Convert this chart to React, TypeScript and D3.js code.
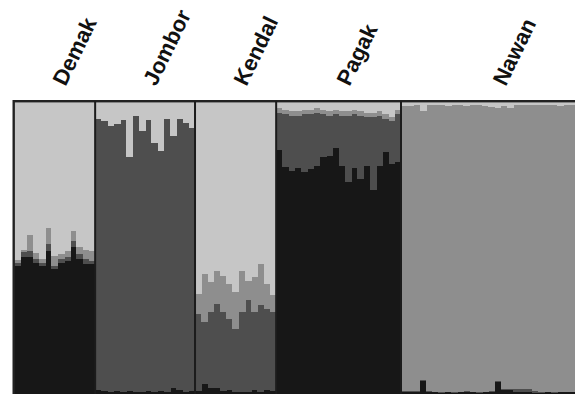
import * as d3 from 'd3';
import * as React from 'react';

// STRUCTURE-style admixture proportions, one value per individual
const populations = ['Demak', 'Jombor', 'Kendal', 'Pagak', 'Nawan'];
const clusterKeys = ['black', 'dark', 'mid', 'light'];
const clusterColors = ['#171717', '#4e4e4e', '#8e8e8e', '#c6c6c6'];

const demakBlack = [0.443, 0.474, 0.474, 0.453, 0.443, 0.494, 0.433, 0.453, 0.46, 0.508, 0.467, 0.45, 0.45];
const demakDark = [0.01, 0.014, 0.02, 0.014, 0.01, 0.024, 0.01, 0.014, 0.014, 0.02, 0.014, 0.014, 0.01];
const demakMid = [0.01, 0.007, 0.055, 0.02, 0.014, 0.055, 0.034, 0.017, 0.02, 0.034, 0.027, 0.031, 0.034];

const jomborBlack = [0.02, 0.015, 0.01, 0.015, 0.01, 0.015, 0.01, 0.01, 0.015, 0.01, 0.015, 0.01, 0.025, 0.02, 0.01, 0.015];
const jomborDark = [0.924, 0.922, 0.91, 0.912, 0.93, 0.797, 0.944, 0.893, 0.925, 0.853, 0.82, 0.934, 0.861, 0.924, 0.92, 0.899];
const jomborMid = [0, 0, 0, 0, 0, 0, 0, 0, 0, 0, 0, 0, 0, 0, 0, 0];

const kendalBlack = [0.015, 0.04, 0.025, 0.025, 0.015, 0.02, 0.01, 0.01, 0.01, 0.02, 0.01, 0.02, 0.015];
const kendalDark = [0.263, 0.21, 0.259, 0.287, 0.269, 0.241, 0.217, 0.274, 0.314, 0.264, 0.297, 0.276, 0.269];
const kendalMid = [0.069, 0.165, 0.102, 0.114, 0.125, 0.12, 0.125, 0.142, 0.068, 0.119, 0.142, 0.085, 0.057];

const pagakBlack = [0.837, 0.778, 0.767, 0.776, 0.763, 0.772, 0.784, 0.814, 0.818, 0.846, 0.784, 0.73, 0.776, 0.738, 0.784, 0.701, 0.784, 0.831, 0.791, 0.797];
const pagakDark = [0.128, 0.182, 0.188, 0.179, 0.197, 0.188, 0.181, 0.146, 0.137, 0.114, 0.171, 0.225, 0.184, 0.217, 0.166, 0.249, 0.171, 0.114, 0.144, 0.163];
const pagakMid = [0.015, 0.015, 0.015, 0.015, 0.015, 0.015, 0.015, 0.015, 0.015, 0.015, 0.015, 0.015, 0.015, 0.015, 0.015, 0.015, 0.015, 0.015, 0.015, 0.015];

const nawanBlack = [0.012, 0.012, 0.012, 0.05, 0.012, 0.01, 0.008, 0.01, 0.008, 0.01, 0.012, 0.01, 0.008, 0.01, 0.012, 0.045, 0.02, 0.02, 0.01, 0.01, 0.01, 0.008, 0.008, 0.01, 0.008, 0.01, 0.01, 0.01, 0.012, 0.01];
const nawanDark = [0.003, 0.003, 0.003, 0.003, 0.003, 0.003, 0.003, 0.003, 0.003, 0.003, 0.003, 0.003, 0.003, 0.003, 0.003, 0.005, 0.003, 0.003, 0.012, 0.012, 0.012, 0.008, 0.003, 0.003, 0.003, 0.003, 0.003, 0.003, 0.003, 0.003];
const nawanMid = [0.973, 0.973, 0.977, 0.917, 0.975, 0.979, 0.981, 0.975, 0.981, 0.977, 0.973, 0.979, 0.981, 0.975, 0.97, 0.932, 0.965, 0.959, 0.968, 0.97, 0.968, 0.976, 0.979, 0.979, 0.979, 0.975, 0.977, 0.979, 0.975, 0.977];

const groups = [
  [demakBlack, demakDark, demakMid],
  [jomborBlack, jomborDark, jomborMid],
  [kendalBlack, kendalDark, kendalMid],
  [pagakBlack, pagakDark, pagakMid],
  [nawanBlack, nawanDark, nawanMid],
];

const width = 575;
const height = 394;

const App = () => {
  const rows: any[] = [];
  const bounds: { name: string; start: number; end: number }[] = [];
  groups.forEach(([b, d, m], gi) => {
    const start = rows.length;
    b.forEach((_, i) => {
      const light = Math.max(0, 1 - b[i] - d[i] - m[i]);
      rows.push({ index: rows.length, black: b[i], dark: d[i], mid: m[i], light });
    });
    bounds.push({ name: populations[gi], start, end: rows.length });
  });

  // 62 individuals fill 14..401px, Nawan continues past the right edge
  const x = d3.scaleLinear().domain([0, 62]).range([14, 401]);
  const y = d3.scaleLinear().domain([0, 1]).range([395, 102]);
  const color = d3.scaleOrdinal<string, string>().domain(clusterKeys).range(clusterColors);

  const series = d3.stack().keys(clusterKeys)(rows);
  const step = x(1) - x(0);

  return (
    <svg width={width} height={height} style={{ position: 'absolute', left: 0, top: 0, display: 'block', background: '#fff' }}>
      <g shapeRendering="crispEdges">
        {series.map((s) => (
          <g key={s.key} fill={color(s.key)}>
            {s.map((p: any, i) => (
              <rect key={i} x={x(p.data.index)} width={step + 0.6} y={y(p[1])} height={Math.max(0, y(p[0]) - y(p[1]) + 0.4)} />
            ))}
          </g>
        ))}
      </g>
      <rect x={13.7} y={101.2} width={width} height={height} fill="none" stroke="#222" strokeWidth={2.4} />
      {bounds.slice(1).map((g) => (
        <line key={g.name} x1={x(g.start)} x2={x(g.start)} y1={101} y2={height} stroke="#1c1c1c" strokeWidth={2} />
      ))}
      {bounds.map((g) => {
        const cx = x((g.start + g.end) / 2) + 11;
        return (
          <text
            key={g.name}
            transform={`translate(${cx},87) rotate(-64)`}
            fontFamily="'Liberation Sans', Arial, sans-serif"
            fontWeight="bold"
            fontSize={22}
            fill="#111"
          >
            {g.name}
          </text>
        );
      })}
    </svg>
  );
};

export default App;
